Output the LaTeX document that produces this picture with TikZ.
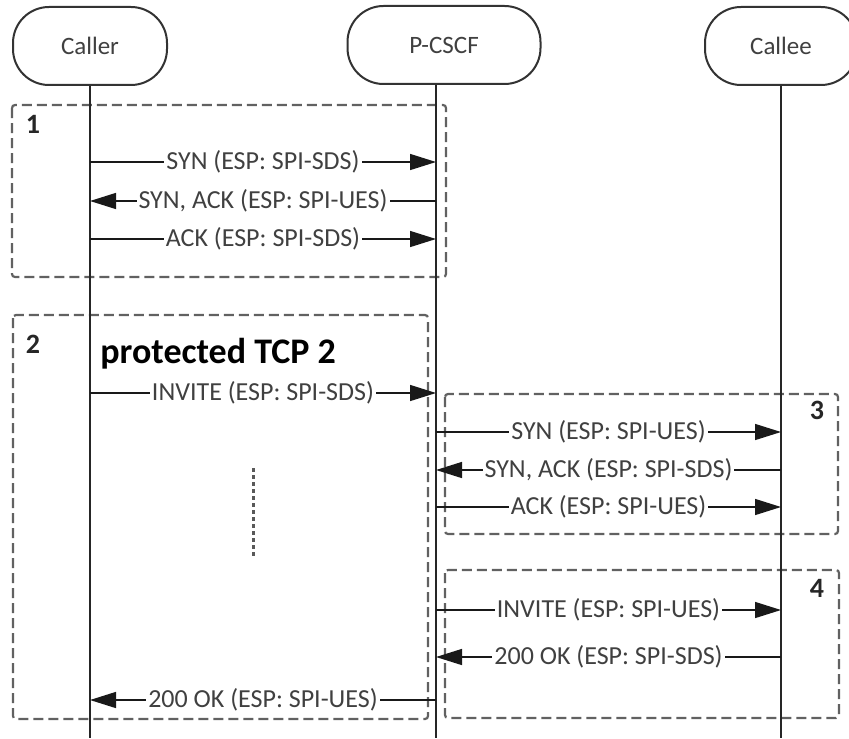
\documentclass[tikz,border=0pt]{standalone}
\usepackage{fontspec}
\setmainfont{Carlito}
\usetikzlibrary{arrows.meta,calc}
\begin{document}
\begin{tikzpicture}[x=0.5pt,y=-0.5pt,
  head/.style={draw=black!80, line width=1pt, rounded corners=18pt, fill=white,
    text=black!75, font=\fontsize{12.5}{15}\selectfont, minimum height=39pt, inner sep=0pt},
  life/.style={draw=black!85, line width=1pt},
  msg/.style={draw=black!90, line width=0.7pt, -{Triangle[length=13pt,width=8pt]}},
  lbl/.style={fill=white, text=black!75, inner sep=1pt, font=\fontsize{13}{15}\selectfont},
  grp/.style={draw=black!62, line width=1.1pt, dash pattern=on 5pt off 2.5pt, rounded corners=1.5pt},
  num/.style={font=\bfseries\fontsize{14}{16}\selectfont, text=black!85},
  dotln/.style={draw=black!65, line width=1.5pt, dash pattern=on 2pt off 1.5pt}]
\useasboundingbox (0,0) rectangle (849,738);

% group boxes
\draw[grp] (12,105) rectangle (446,277);
\draw[grp] (13,315) rectangle (428,719);
\draw[grp] (445,394) rectangle (838,534);
\draw[grp] (445,570) rectangle (839,718);

% heads
\node[head, minimum width=77pt] (caller) at (90,46) {Caller};
\node[head, minimum width=96.5pt] (pcscf) at (444,45) {P-CSCF};
\node[head, minimum width=76pt] (callee) at (781,46) {Callee};

% lifeline ends
\coordinate (Lc) at (90,738);
\coordinate (Lp) at (436,738);
\coordinate (Le) at (781,738);
\draw[life] (Lc |- caller.south) -- (Lc);
\draw[life] (Lp |- pcscf.south) -- (Lp);
\draw[life] (Le |- callee.south) -- (Le);

% group numbers
\node[num] (n1) at (33,124) {1};
\node[num] (n2) at (33,344) {2};
\node[num] (n3) at (817,410) {3};
\node[num] (n4) at (817,588) {4};
\node[font=\bfseries\fontsize{18}{20}\selectfont, anchor=base west, inner sep=0pt] (ptcp) at (100,363) {protected TCP 2};

% messages
\draw[msg] (Lc |- 0,162) -- node[lbl] {SYN (ESP: SPI-SDS)} (Lp |- 0,162);
\draw[msg] (Lp |- 0,201) -- node[lbl] {SYN, ACK (ESP: SPI-UES)} (Lc |- 0,201);
\draw[msg] (Lc |- 0,239) -- node[lbl] {ACK (ESP: SPI-SDS)} (Lp |- 0,239);

\draw[msg] (Lc |- 0,393) -- node[lbl] {INVITE (ESP: SPI-SDS)} (Lp |- 0,393);

\draw[msg] (Lp |- 0,432) -- node[lbl] {SYN (ESP: SPI-UES)} (Le |- 0,432);
\draw[msg] (Le |- 0,470) -- node[lbl] {SYN, ACK (ESP: SPI-SDS)} (Lp |- 0,470);
\draw[msg] (Lp |- 0,507) -- node[lbl] {ACK (ESP: SPI-UES)} (Le |- 0,507);

\draw[msg] (Lp |- 0,610) -- node[lbl] {INVITE (ESP: SPI-UES)} (Le |- 0,610);
\draw[msg] (Le |- 0,657) -- node[lbl] {200 OK (ESP: SPI-SDS)} (Lp |- 0,657);
\draw[msg] (Lp |- 0,700) -- node[lbl] {200 OK (ESP: SPI-UES)} (Lc |- 0,700);

% vertical dotted
\coordinate (d1) at (253,468);
\coordinate (d2) at (253,556);
\draw[dotln] (d1) -- (d2);
\end{tikzpicture}
\end{document}
